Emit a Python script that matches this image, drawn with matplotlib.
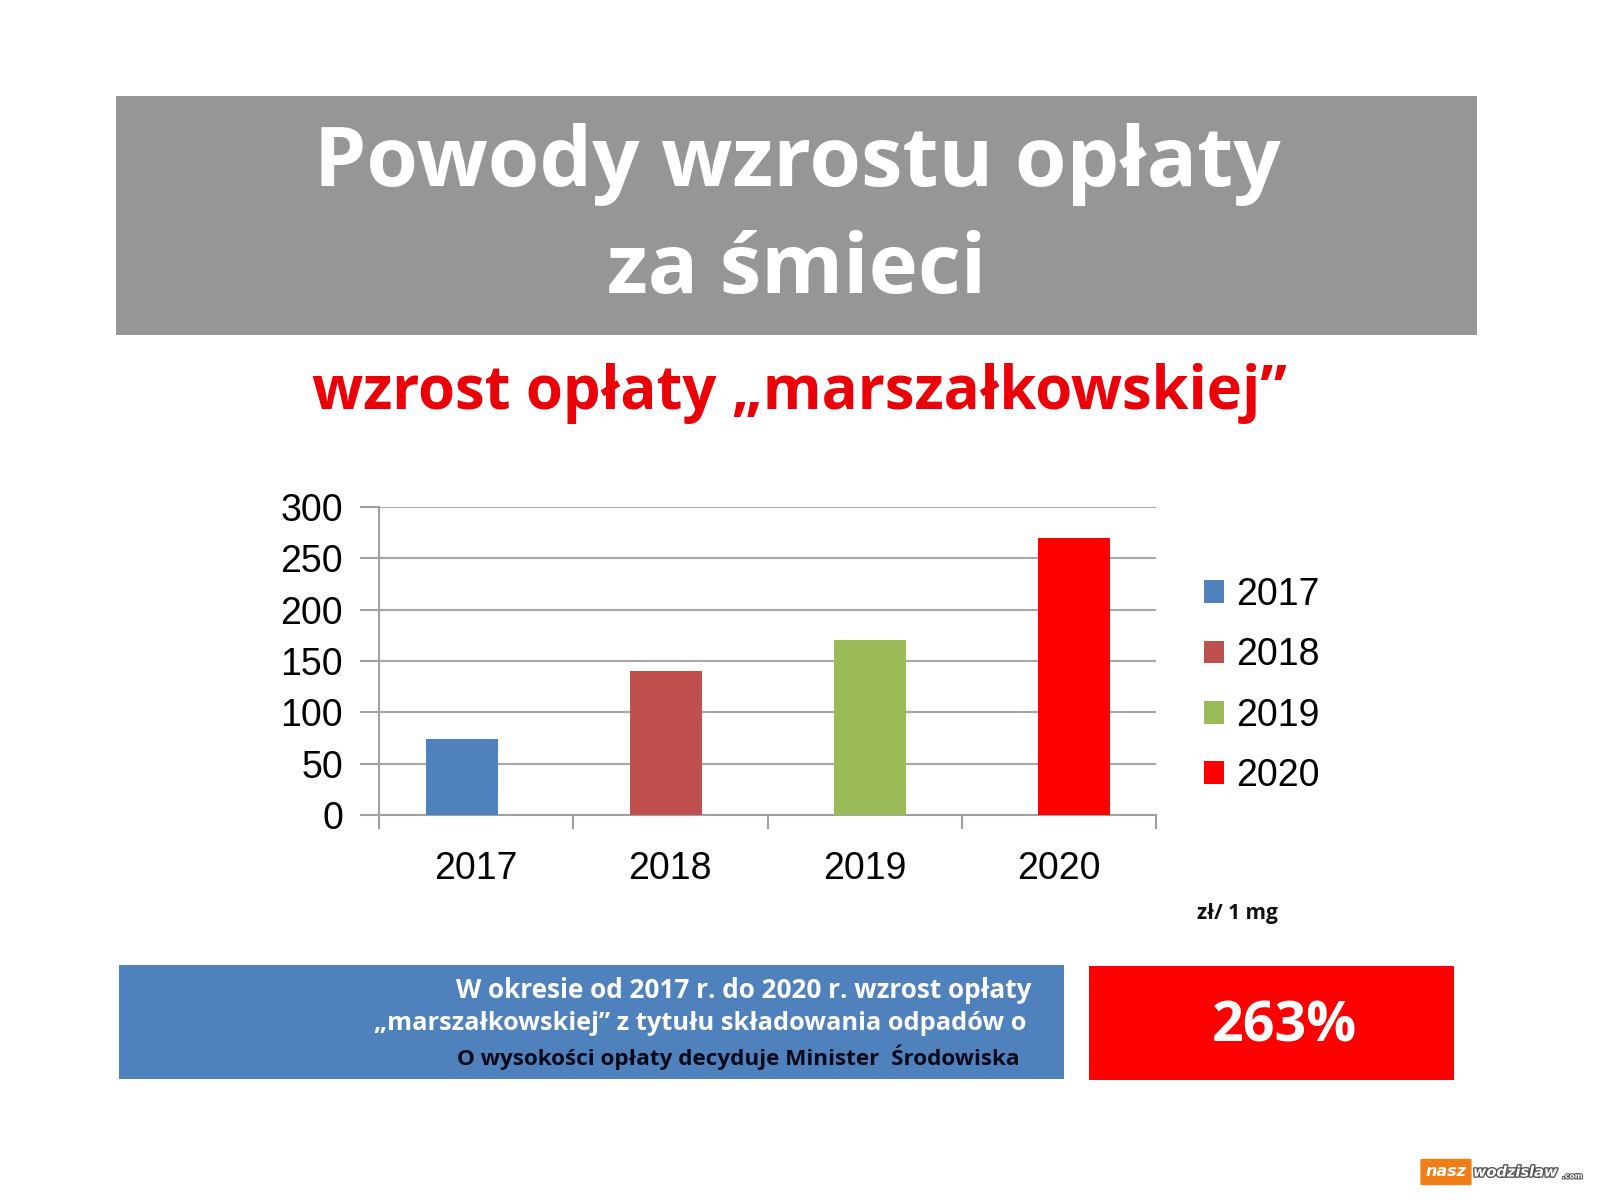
import matplotlib
matplotlib.use("Agg")
import matplotlib.pyplot as plt
from matplotlib.patches import Rectangle, FancyBboxPatch
import matplotlib.patheffects as pe
import numpy as np

years = ["2017", "2018", "2019", "2020"]
values = [74, 140, 170, 270]
colors = ["#4f81bd", "#c0504d", "#9bbb59", "#ff0000"]
yticks = [0, 50, 100, 150, 200, 250, 300]

title_lines = ["Powody wzrostu opłaty", "za śmieci"]
subtitle = "wzrost opłaty „marszałkowskiej”"
unit = "zł/ 1 mg"
info_lines = ["W okresie od 2017 r. do 2020 r. wzrost opłaty",
              "„marszałkowskiej” z tytułu składowania odpadów o",
              "O wysokości opłaty decyduje Minister  Środowiska"]
pct = "263%"

W, H = 1600, 1200
fig = plt.figure(figsize=(16, 12), dpi=100)
fig.patch.set_facecolor("white")

def fx(x): return x / W
def fy(y): return 1 - y / H

FONT = "Open Sans"
TICKFONT = "Liberation Sans"

# Title banner
fig.patches.append(Rectangle((fx(116), fy(335)), fx(1477) - fx(116), fy(96) - fy(335),
                             transform=fig.transFigure, facecolor="#969696", edgecolor="none"))
fig.text(fx(797), fy(165), title_lines[0], ha="center", va="center", color="white",
         fontsize=60, fontweight="bold", family=FONT)
fig.text(fx(797), fy(272), title_lines[1], ha="center", va="center", color="white",
         fontsize=60, fontweight="bold", family=FONT)

fig.text(fx(799), fy(393), subtitle, ha="center", va="center", color="#eb0008",
         fontsize=43, fontweight="bold", family=FONT)

# Chart
ax = fig.add_axes([fx(379), fy(815), fx(1156) - fx(379), fy(507) - fy(815)])
x = np.arange(len(years))
bars = ax.bar(x, values, width=0.353, color=colors, zorder=3)
xl = (-0.407, 3.40)
ax.set_xlim(*xl)
ax.set_ylim(0, 300)
ax.set_yticks(yticks)
ax.set_yticklabels([str(v) for v in yticks], fontsize=27, family=TICKFONT)
bounds = np.linspace(xl[0], xl[1], len(years) + 1)
ax.set_xticks((bounds[:-1] + bounds[1:]) / 2)
ax.set_xticklabels(years, fontsize=27, family=TICKFONT)
ax.tick_params(axis="x", length=0, pad=26)
ax.set_xticks(bounds, minor=True)
ax.tick_params(axis="x", which="minor", length=10, color="#a0a0a0", width=1.5)
ax.tick_params(axis="y", length=14, color="#a0a0a0", width=1.5, pad=12)
ax.grid(axis="y", color="#a6a6a6", linewidth=1.5, zorder=0)
for s in ["top", "right"]:
    ax.spines[s].set_visible(False)
for s in ["left", "bottom"]:
    ax.spines[s].set_color("#a0a0a0")
    ax.spines[s].set_linewidth(1.5)

leg = fig.legend(bars, years, loc="upper left", bbox_to_anchor=(fx(1170), fy(543)),
                 frameon=False, prop={"family": TICKFONT, "size": 27},
                 handlelength=0.55, handleheight=0.55, handletextpad=0.3, labelspacing=0.65)

fig.text(fx(1237), fy(913), unit, ha="center", va="center", color="#111111",
         fontsize=15, fontweight="bold", family=FONT)

# Bottom boxes
fig.patches.append(Rectangle((fx(119), fy(1079)), fx(1064) - fx(119), fy(965) - fy(1079),
                             transform=fig.transFigure, facecolor="#4f81bd", edgecolor="none"))
fig.text(fx(1031), fy(991), info_lines[0], ha="right", va="center", color="white",
         fontsize=18.8, fontweight="bold", family=FONT)
fig.text(fx(1026), fy(1024), info_lines[1], ha="right", va="center", color="white",
         fontsize=18.3, fontweight="bold", family=FONT)
fig.text(fx(1020), fy(1057), info_lines[2], ha="right", va="center", color="#0a0a1a",
         fontsize=16.2, fontweight="bold", family=FONT)

fig.patches.append(Rectangle((fx(1089), fy(1080)), fx(1454) - fx(1089), fy(966) - fy(1080),
                             transform=fig.transFigure, facecolor="#ff0000", edgecolor="none"))
fig.text(fx(1284), fy(1027), pct, ha="center", va="center", color="white",
         fontsize=40, fontweight="bold", family=FONT)

# Logo
fig.patches.append(FancyBboxPatch((fx(1422), fy(1184)), fx(1470) - fx(1422), fy(1160) - fy(1184),
                                  boxstyle="round,pad=0.001", transform=fig.transFigure,
                                  facecolor="#f07d16", edgecolor="none"))
fig.text(fx(1446), fy(1172), "nasz", ha="center", va="center", color="white",
         fontsize=11.5, fontweight="bold", style="italic", family="DejaVu Sans")
t = fig.text(fx(1473), fy(1172), "wodzislaw", ha="left", va="center", color="white",
             fontsize=10.5, fontweight="bold", style="italic", family="DejaVu Sans")
t.set_path_effects([pe.withStroke(linewidth=2, foreground="#555555")])
t2 = fig.text(fx(1562), fy(1176), ".com", ha="left", va="center", color="white",
              fontsize=5.5, fontweight="bold", family="DejaVu Sans")
t2.set_path_effects([pe.withStroke(linewidth=1.5, foreground="#555555")])

fig.savefig("out.png", dpi=100, facecolor="white")
